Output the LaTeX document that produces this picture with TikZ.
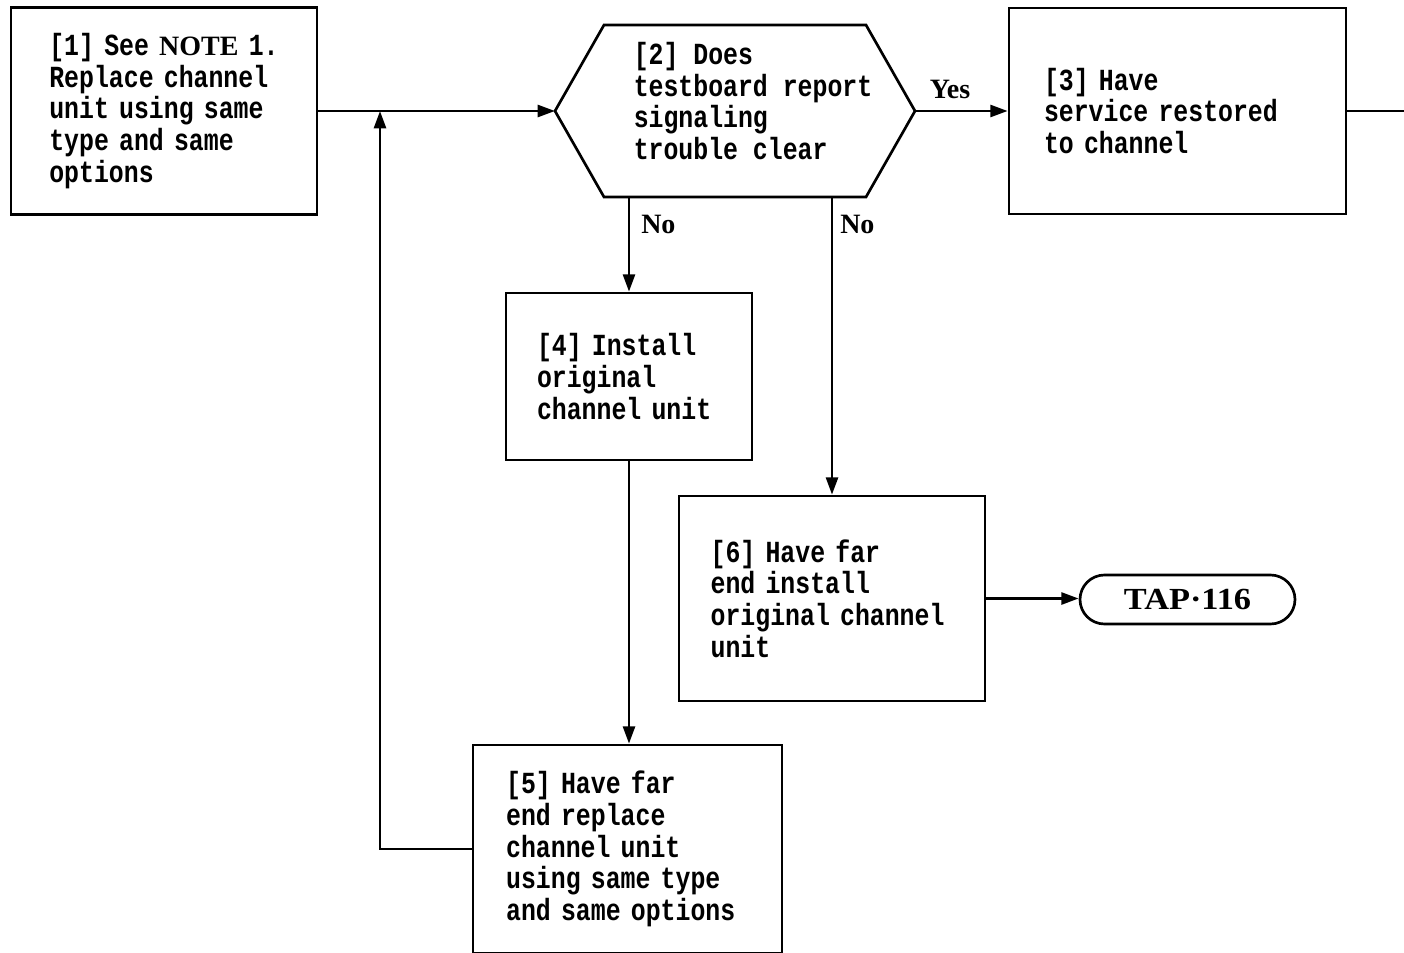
\documentclass[tikz,border=0pt]{standalone}
\usepackage{fontspec}
\usepackage{tikz}
\usetikzlibrary{calc, shapes.misc, arrows.meta}
\newfontfamily\typefont{Liberation Mono}[FakeStretch=0.81, WordSpace={1,0,0}]
\newfontfamily\labfont{Liberation Serif}
\newfontfamily\tapfont{Liberation Serif}[FakeStretch=1.12]

\tikzset{
  stepbox/.style={draw, line width=2pt, rectangle, align=left, inner sep=0pt,
    font=\typefont\bfseries\fontsize{23}{23.8}\selectfont},
  hextext/.style={align=left, inner sep=0pt,
    font=\typefont\bfseries\fontsize{23}{23.8}\selectfont},
  plain/.style={line width=2pt},
  flow/.style={line width=2pt, -{Triangle[length=13pt,width=9pt]}},
  lab/.style={inner sep=0pt, font=\labfont\bfseries\fontsize{21}{23}\selectfont},
  term/.style={draw, rounded rectangle, line width=2pt, inner sep=0pt,
    font=\tapfont\bfseries\fontsize{23}{25}\selectfont}
}

\begin{document}
\begin{tikzpicture}[x=0.75pt,y=0.75pt,yscale=-1]
\useasboundingbox (0,0) rectangle (1404,953);

%Shape: Rectangle [1]
\node[stepbox, minimum width=229.5pt, minimum height=155.25pt, text width=172pt] (note) at (164,111)
  {[1]~See~{\labfont\fontsize{21}{23}\selectfont NOTE}~1.\\Replace channel\\unit using same\\type and same\\options};
%Shape: Hexagon [2]
\node[hextext] (ask) at (753,101) {[2] Does\\testboard report\\signaling\\trouble clear};
\draw[plain] ($(ask.center)+(-198,10)$) coordinate (askW) -- ++(49,-86) -- ++(262,0)
  -- ++(49,86) coordinate (askE) -- ++(-49,86) coordinate (askSE) -- ++(-262,0) -- cycle;
%Shape: Rectangle [3]
\node[stepbox, minimum width=252.75pt, minimum height=154.5pt, text width=200.25pt] (restore) at (1177.5,111)
  {[3] Have\\service restored\\to channel};
%Shape: Rectangle [4]
\node[stepbox, minimum width=184.5pt, minimum height=125.25pt, text width=138pt] (orig) at (629,376.5)
  {[4] Install\\original\\channel unit};
%Shape: Rectangle [5]
\node[stepbox, minimum width=231.75pt, minimum height=156pt, text width=182pt] (farrep) at (627.5,849)
  {[5] Have far\\end replace\\channel unit\\using same type\\and same options};
%Shape: Rectangle [6]
\node[stepbox, minimum width=229.5pt, minimum height=153.75pt, text width=182pt] (farins) at (832,598.5)
  {[6] Have far\\end install\\original channel\\unit};
%Shape: Terminal
\node[term, minimum width=161.25pt, minimum height=36.75pt] (tap) at (1187.5,599.5) {TAP·116};

\coordinate (join) at (380,111);
\coordinate (exit) at (1404,111);

%Straight Lines
\draw[flow] (note.east) -- (askW);
\draw[flow] (askE) -- (restore.west);
\draw[plain] (restore.east) -- (exit);
\draw[flow] (askSE -| orig) -- (orig.north);
\draw[flow] (askSE -| farins) -- (farins.north);
\draw[flow] (orig.south) -- (orig.south |- farrep.north);
\draw[flow] (farrep.west) -| (join);
\draw[flow] (farins.east) -- (farins.east -| tap.west);

% Text Node
\node[lab] (yes) at (950,89) {Yes};
% Text Node
\node[lab, anchor=west] (no1) at (641,224) {No};
% Text Node
\node[lab, anchor=west] (no2) at (840,224) {No};

\end{tikzpicture}
\end{document}
